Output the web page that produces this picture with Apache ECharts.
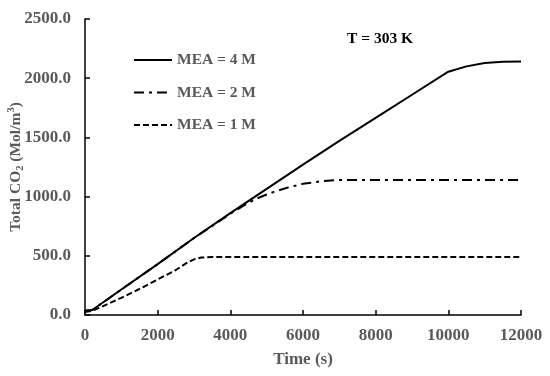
<!DOCTYPE html>
<html><head><meta charset="utf-8">
<script src="https://cdn.jsdelivr.net/npm/echarts@6/dist/echarts.min.js"></script>
<style>html,body{margin:0;padding:0;background:#fff}#c{width:550px;height:376px}</style>
</head><body><div id="c"></div>
<script>
// Data
const seriesNames = ['MEA = 4 M', 'MEA = 2 M', 'MEA = 1 M'];
const time4M = [0, 200, 1000, 2000, 3000, 4000, 5000, 6000, 7000, 8000, 9000, 10000, 10500, 11000, 11500, 12000];
const co2_4M = [35, 42, 215, 430, 650, 860, 1065, 1270, 1470, 1665, 1860, 2055, 2100, 2128, 2138, 2140];
const time2M = [0, 200, 1000, 2000, 3000, 4000, 4400, 4700, 5000, 5200, 5600, 6000, 6500, 7000, 8000, 12000];
const co2_2M = [35, 42, 215, 430, 650, 855, 930, 980, 1018, 1040, 1078, 1108, 1130, 1140, 1140, 1140];
const time1M = [0, 200, 500, 1000, 1500, 2000, 2500, 2800, 3000, 3200, 3500, 4000, 12000];
const co2_1M = [25, 35, 75, 145, 220, 300, 380, 440, 470, 485, 490, 490, 490];
const xTicks = [0, 2000, 4000, 6000, 8000, 10000, 12000];
const yTicks = [0, 500, 1000, 1500, 2000, 2500];
const annotation = 'T = 303 K';

const pairs = (t, v) => t.map((x, i) => [x, v[i]]);
const FONT = '"Liberation Serif", "Times New Roman", serif';
const GRAY = '#595959';

const chart = echarts.init(document.getElementById('c'), null, {renderer: 'canvas'});
chart.setOption({
  animation: false,
  backgroundColor: '#fff',
  grid: {left: 85, right: 29, top: 19, bottom: 61, containLabel: false, outerBoundsMode: 'none'},
  legend: {
    orient: 'vertical', left: 133, top: 52, padding: 0,
    itemWidth: 38, itemHeight: 14, itemGap: 16.5,
    data: seriesNames,
    itemStyle: {opacity: 0},
    textStyle: {fontFamily: FONT, fontWeight: 'bold', fontSize: 15.5, color: GRAY}
  },
  xAxis: {
    type: 'value', min: xTicks[0], max: xTicks[xTicks.length - 1], interval: 2000,
    name: 'Time (s)', nameLocation: 'middle', nameGap: 36, nameMoveOverlap: false,
    nameTextStyle: {fontFamily: FONT, fontWeight: 'bold', fontSize: 17, color: GRAY},
    axisLine: {lineStyle: {color: '#000', width: 1.5}},
    axisTick: {inside: true, length: 5, lineStyle: {color: '#000', width: 1.5}},
    axisLabel: {fontFamily: FONT, fontWeight: 'bold', fontSize: 17, color: GRAY, margin: 12,
      formatter: v => String(v)},
    splitLine: {show: false}
  },
  yAxis: {
    type: 'value', min: yTicks[0], max: yTicks[yTicks.length - 1], interval: 500,
    name: '{a|Total CO}{sub|2}{a| (Mol/m}{sup|3}{a|)}',
    nameLocation: 'middle', nameGap: 59, nameMoveOverlap: false,
    nameTextStyle: {
      fontFamily: FONT, fontWeight: 'bold', fontSize: 15.5, color: GRAY,
      rich: {
        a: {fontFamily: FONT, fontWeight: 'bold', fontSize: 15.5, color: GRAY, lineHeight: 20},
        sub: {fontFamily: FONT, fontWeight: 'bold', fontSize: 10.5, color: GRAY, verticalAlign: 'bottom', lineHeight: 20, padding: [8,0,0,0]},
        sup: {fontFamily: FONT, fontWeight: 'bold', fontSize: 10.5, color: GRAY, verticalAlign: 'top', lineHeight: 20, padding: [0,0,8,0]}
      }
    },
    axisLine: {show: true, lineStyle: {color: '#000', width: 1.5}},
    axisTick: {show: true, inside: true, length: 5, lineStyle: {color: '#000', width: 1.5}},
    axisLabel: {fontFamily: FONT, fontWeight: 'bold', fontSize: 17, color: GRAY, margin: 14,
      formatter: v => v.toFixed(1)},
    splitLine: {show: false}
  },
  series: [
    {name: seriesNames[0], type: 'line', data: pairs(time4M, co2_4M), symbol: 'none', showSymbol: false,
     lineStyle: {color: '#000', width: 2, type: 'solid'}, itemStyle: {color: '#000'}},
    {name: seriesNames[1], type: 'line', data: pairs(time2M, co2_2M), symbol: 'none', showSymbol: false,
     lineStyle: {color: '#000', width: 2, type: [10, 5, 3, 5]}, itemStyle: {color: '#000'}},
    {name: seriesNames[2], type: 'line', data: pairs(time1M, co2_1M), symbol: 'none', showSymbol: false,
     lineStyle: {color: '#000', width: 2, type: [6, 3]}, itemStyle: {color: '#000'}}
  ],
  graphic: [{
    type: 'text', left: 347, top: 31,
    style: {text: annotation, font: 'bold 15.5px ' + FONT, fill: '#000'}
  }]
});
</script></body></html>
